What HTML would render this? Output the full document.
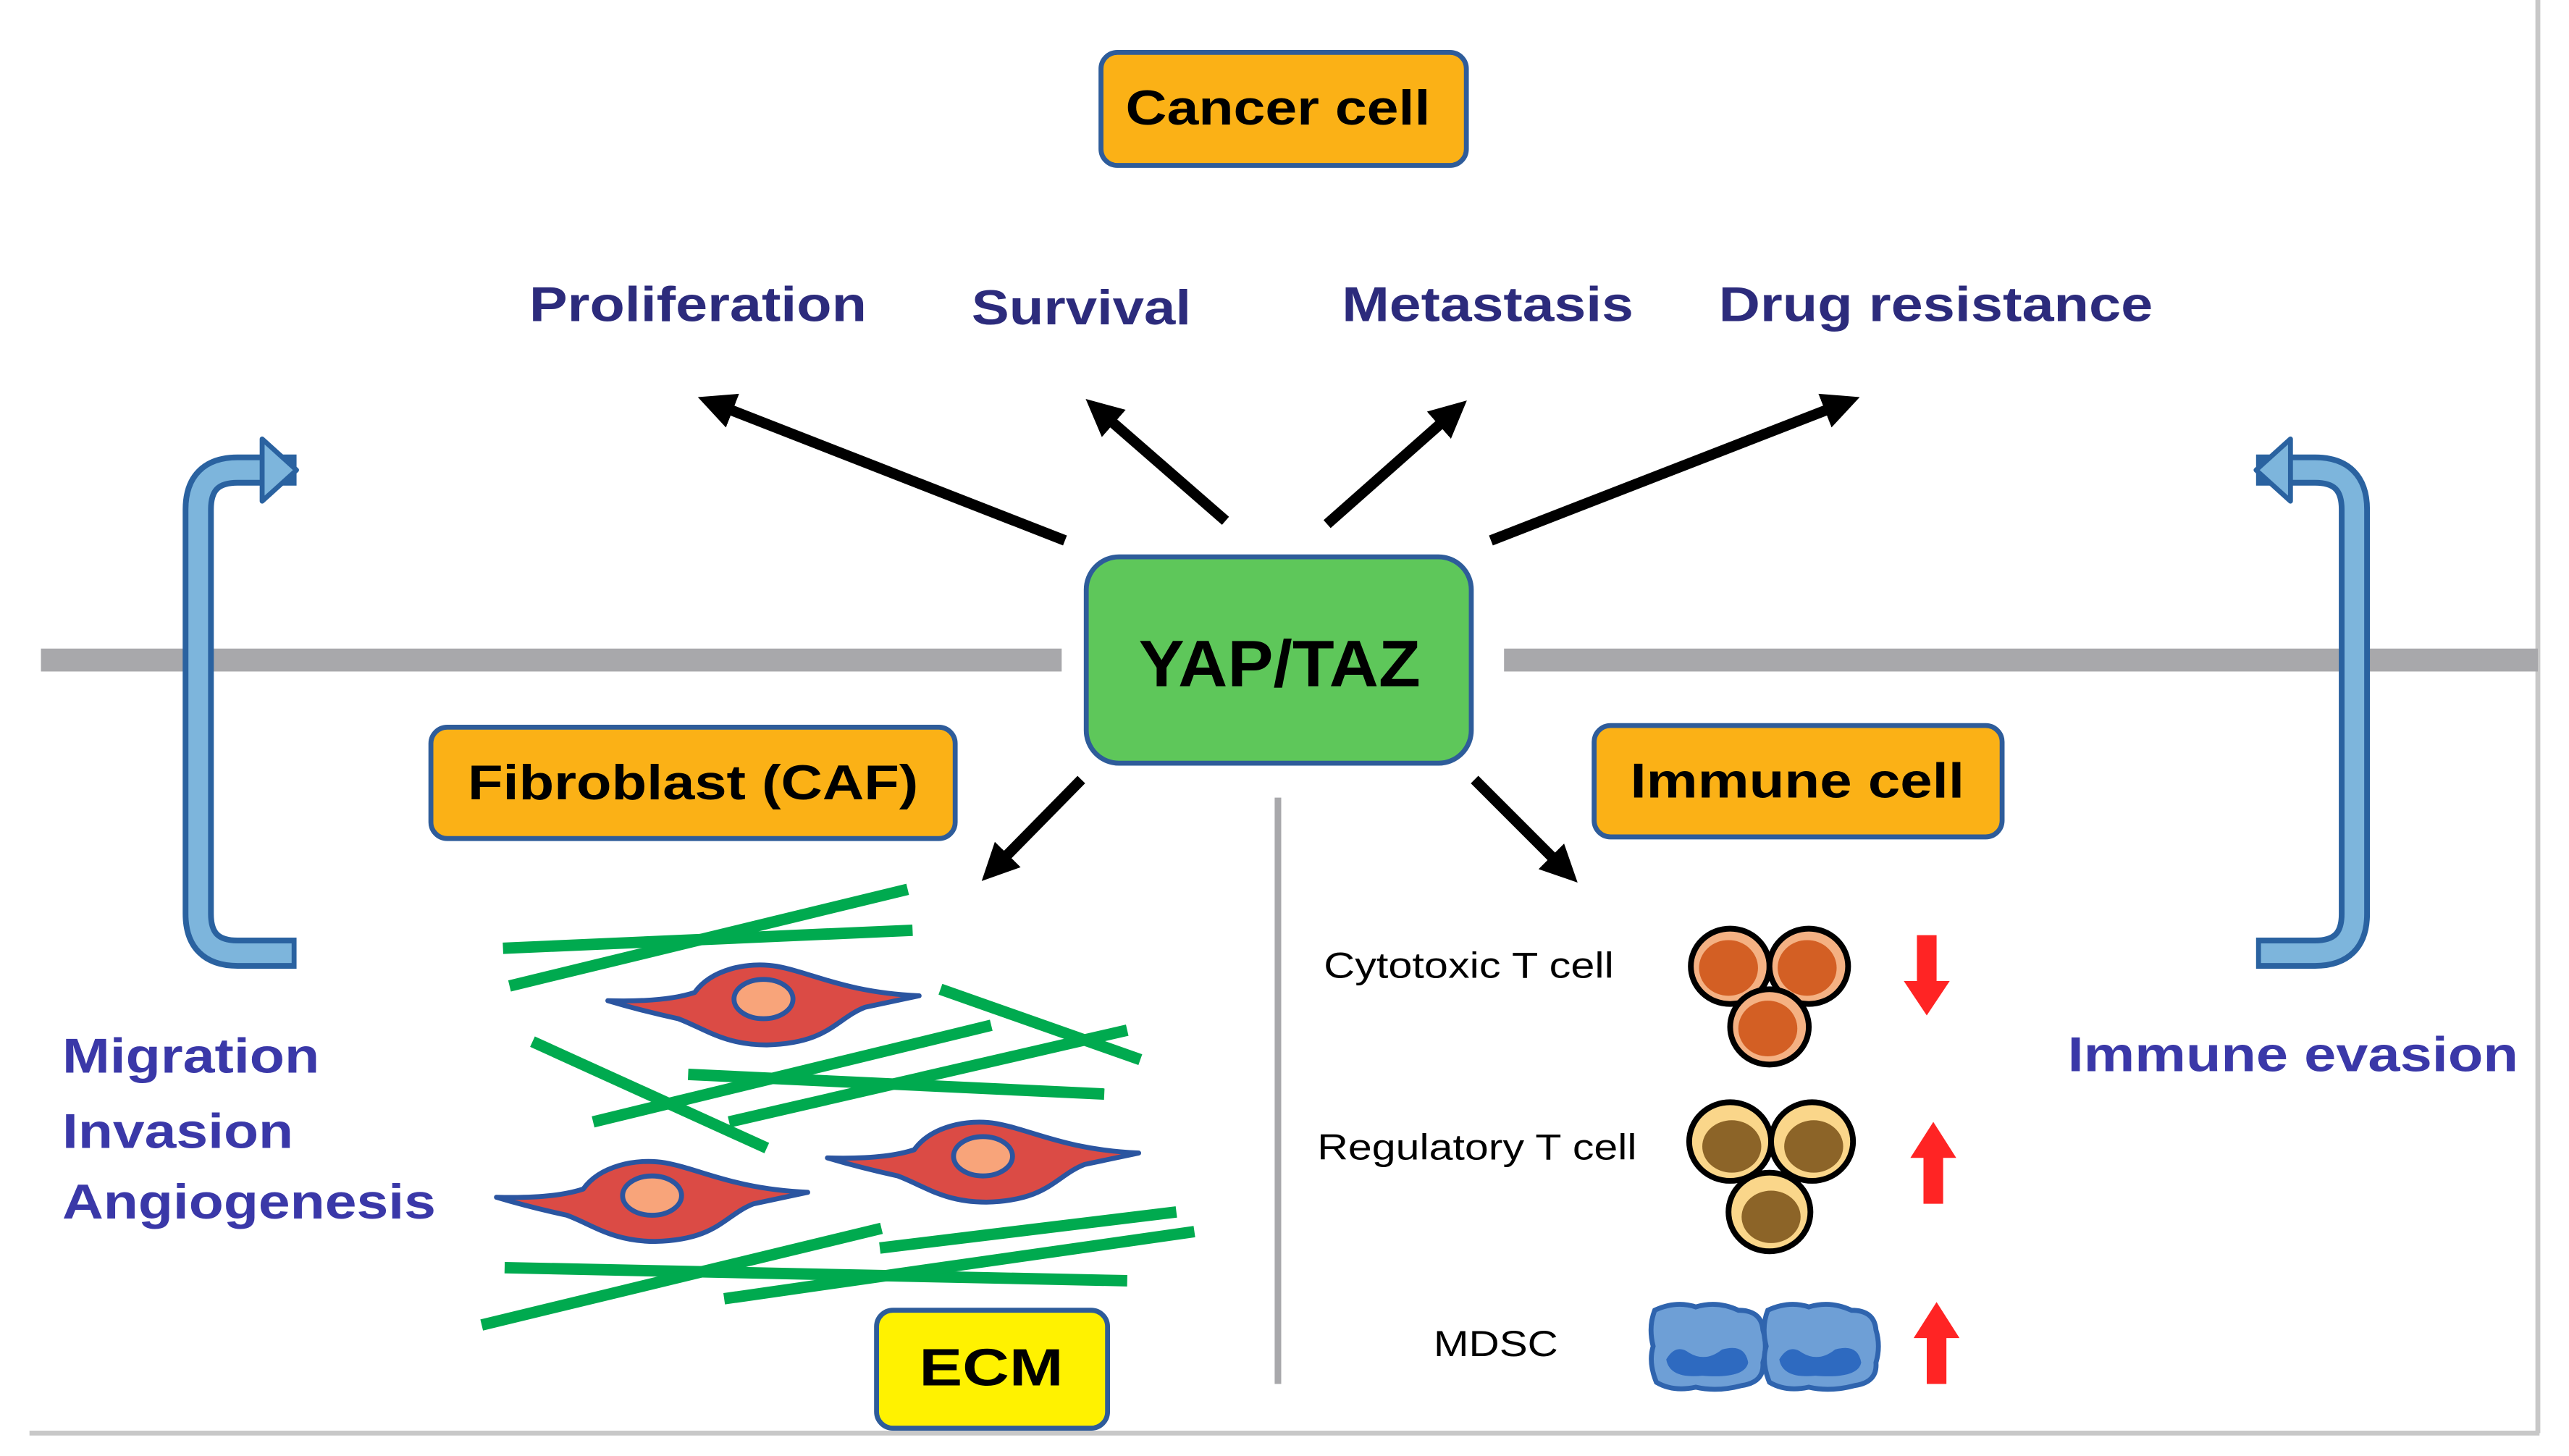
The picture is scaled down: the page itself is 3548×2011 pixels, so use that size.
<!DOCTYPE html>
<html><head><meta charset="utf-8"><style>
html,body{margin:0;padding:0;background:#fff;}
svg{display:block;}
text{font-family:"Liberation Sans",Arial,sans-serif;}
</style></head><body>
<svg width="3548" height="2011" viewBox="0 0 1568 889" preserveAspectRatio="none" xmlns="http://www.w3.org/2000/svg">
<defs>
<marker id="ah" markerWidth="4" markerHeight="4" refX="2" refY="2" orient="auto" markerUnits="strokeWidth"><path d="M0,0.3 L3.5,2 L0,3.7 Z" fill="#000"/></marker>
<g id="fib">
<path d="M-95,-3 Q-60,-2 -42,-8 C-32,-22 -10,-27 8,-24 C30,-20 50,-8 95,-6 L62,1 C44,8 40,23 2,24 C-24,24 -36,14 -52,8 Q-75,3 -95,-3 Z" fill="#DB4B45" stroke="#2B55A0" stroke-width="3" stroke-linejoin="round"/>
<ellipse cx="0" cy="-4" rx="18" ry="12" fill="#F8A47A" stroke="#2B55A0" stroke-width="3"/>
</g>
<g id="tc"><ellipse rx="24" ry="23" fill="#F4B183" stroke="#000" stroke-width="3.5"/><ellipse cx="-1" cy="1" rx="18" ry="17" fill="#D35F24"/></g>
<g id="tr"><ellipse rx="25" ry="24" fill="#FAD68A" stroke="#000" stroke-width="3.5"/><ellipse cx="1" cy="3" rx="18" ry="16" fill="#8C6428"/></g>
<g id="md"><path d="M-33,-22 Q-20,-28 -8,-24 Q5,-28 18,-22 Q32,-22 33,-10 Q36,0 33,10 Q34,22 20,24 Q5,28 -8,25 Q-22,28 -32,22 Q-37,10 -34,0 Q-37,-12 -33,-22Z" fill="#6E9FD6" stroke="#2F64AE" stroke-width="3"/><path d="M-26,8 Q-20,-2 -12,4 Q-2,10 8,2 Q22,-2 24,10 Q22,20 -4,18 Q-24,20 -26,8Z" fill="#2E6AC0"/></g>
</defs>
<line x1="1549" y1="0" x2="1549" y2="875" stroke="#C8C8C8" stroke-width="3"/>
<line x1="18" y1="875" x2="1550" y2="875" stroke="#C8C8C8" stroke-width="3"/>
<rect x="25" y="396" width="623" height="14" fill="#A8A8AB"/>
<rect x="918" y="396" width="631" height="14" fill="#A8A8AB"/>
<line x1="780" y1="487" x2="780" y2="845" stroke="#A8A8AB" stroke-width="4"/>
<g>
<path d="M181,287 L145,287 Q121,287 121,311 L121,558 Q121,582 145,582 L181,582" fill="none" stroke="#2A62A0" stroke-width="19"/>
<path d="M165,287 L145,287 Q121,287 121,311 L121,558 Q121,582 145,582 L178,582" fill="none" stroke="#7DB5DC" stroke-width="12"/>
<path d="M160,268 L181,287 L160,306 Z" fill="#7DB5DC" stroke="#2A62A0" stroke-width="3" stroke-linejoin="round"/>
</g>
<g transform="translate(1558,0) scale(-1,1)">
<path d="M181,287 L145,287 Q121,287 121,311 L121,558 Q121,582 145,582 L181,582" fill="none" stroke="#2A62A0" stroke-width="19"/>
<path d="M165,287 L145,287 Q121,287 121,311 L121,558 Q121,582 145,582 L178,582" fill="none" stroke="#7DB5DC" stroke-width="12"/>
<path d="M160,268 L181,287 L160,306 Z" fill="#7DB5DC" stroke="#2A62A0" stroke-width="3" stroke-linejoin="round"/>
</g>
<g stroke="#000" stroke-width="6.5" marker-end="url(#ah)">
<line x1="650" y1="330" x2="435" y2="246"/>
<line x1="748" y1="318" x2="670" y2="250"/>
<line x1="810" y1="320" x2="888" y2="251"/>
<line x1="910" y1="330" x2="1126" y2="246"/>
<line x1="660" y1="476" x2="606" y2="531"/>
<line x1="900" y1="476" x2="956" y2="532"/>
</g>
<rect x="672" y="32" width="223" height="69" rx="10" fill="#FBB116" stroke="#2E5C9A" stroke-width="3"/>
<text x="780" y="76" font-size="30" font-weight="bold" text-anchor="middle" textLength="186" lengthAdjust="spacingAndGlyphs">Cancer cell</text>
<rect x="663" y="340" width="235" height="126" rx="20" fill="#5EC75A" stroke="#2E5C9A" stroke-width="3"/>
<text x="781" y="419" font-size="40" font-weight="bold" text-anchor="middle" textLength="172" lengthAdjust="spacingAndGlyphs">YAP/TAZ</text>
<rect x="263" y="444" width="320" height="68" rx="10" fill="#FBB116" stroke="#2E5C9A" stroke-width="3"/>
<text x="423" y="488" font-size="30" font-weight="bold" text-anchor="middle" textLength="275" lengthAdjust="spacingAndGlyphs">Fibroblast (CAF)</text>
<rect x="973" y="443" width="249" height="68" rx="10" fill="#FBB116" stroke="#2E5C9A" stroke-width="3"/>
<text x="1097" y="487" font-size="30" font-weight="bold" text-anchor="middle" textLength="204" lengthAdjust="spacingAndGlyphs">Immune cell</text>
<rect x="535" y="800" width="141" height="72" rx="10" fill="#FFF200" stroke="#2E5C9A" stroke-width="3"/>
<text x="605" y="846" font-size="32" font-weight="bold" text-anchor="middle" textLength="88" lengthAdjust="spacingAndGlyphs">ECM</text>
<g font-size="30" font-weight="bold" fill="#2C2B7C">
<text x="323" y="196" textLength="206" lengthAdjust="spacingAndGlyphs">Proliferation</text>
<text x="593" y="198" textLength="134" lengthAdjust="spacingAndGlyphs">Survival</text>
<text x="819" y="196" textLength="178" lengthAdjust="spacingAndGlyphs">Metastasis</text>
<text x="1049" y="196" textLength="265" lengthAdjust="spacingAndGlyphs">Drug resistance</text>
</g>
<g font-size="30" font-weight="bold" fill="#3A38A8">
<text x="38" y="655" textLength="157" lengthAdjust="spacingAndGlyphs">Migration</text>
<text x="38" y="701" textLength="141" lengthAdjust="spacingAndGlyphs">Invasion</text>
<text x="38" y="744" textLength="228" lengthAdjust="spacingAndGlyphs">Angiogenesis</text>
<text x="1262" y="654" textLength="275" lengthAdjust="spacingAndGlyphs">Immune evasion</text>
</g>
<g stroke="#00AA4F" stroke-width="7">
<line x1="307" y1="579" x2="557" y2="568"/>
<line x1="311" y1="602" x2="554" y2="543"/>
<line x1="325" y1="636" x2="468" y2="701"/>
<line x1="362" y1="685" x2="605" y2="626"/>
<line x1="420" y1="656" x2="674" y2="668"/>
<line x1="445" y1="685" x2="688" y2="629"/>
<line x1="574" y1="604" x2="696" y2="647"/>
<line x1="308" y1="774" x2="688" y2="782"/>
<line x1="294" y1="809" x2="538" y2="750"/>
<line x1="537" y1="762" x2="718" y2="740"/>
<line x1="442" y1="793" x2="729" y2="752"/>
</g>
<use href="#fib" transform="translate(466,614)"/>
<use href="#fib" transform="translate(600,710)"/>
<use href="#fib" transform="translate(398,734)"/>
<g font-size="22" fill="#000">
<text x="808" y="597" textLength="177" lengthAdjust="spacingAndGlyphs">Cytotoxic T cell</text>
<text x="804" y="708" textLength="195" lengthAdjust="spacingAndGlyphs">Regulatory T cell</text>
<text x="875" y="828" textLength="76" lengthAdjust="spacingAndGlyphs">MDSC</text>
</g>
<use href="#tc" transform="translate(1056,590)"/>
<use href="#tc" transform="translate(1104,590)"/>
<use href="#tc" transform="translate(1080,627)"/>
<use href="#tr" transform="translate(1056,697)"/>
<use href="#tr" transform="translate(1106,697)"/>
<use href="#tr" transform="translate(1080,740)"/>
<use href="#md" transform="translate(1043,822)"/>
<use href="#md" transform="translate(1112,822)"/>
<g fill="#FF2424">
<path d="M1170,571 h12 v28 h8 l-14,21 l-14,-21 h8 Z"/>
<path d="M1174,735 h12 v-28 h8 l-14,-22 l-14,22 h8 Z"/>
<path d="M1176,845 h12 v-28 h8 l-14,-22 l-14,22 h8 Z"/>
</g>
</svg>
</body></html>
